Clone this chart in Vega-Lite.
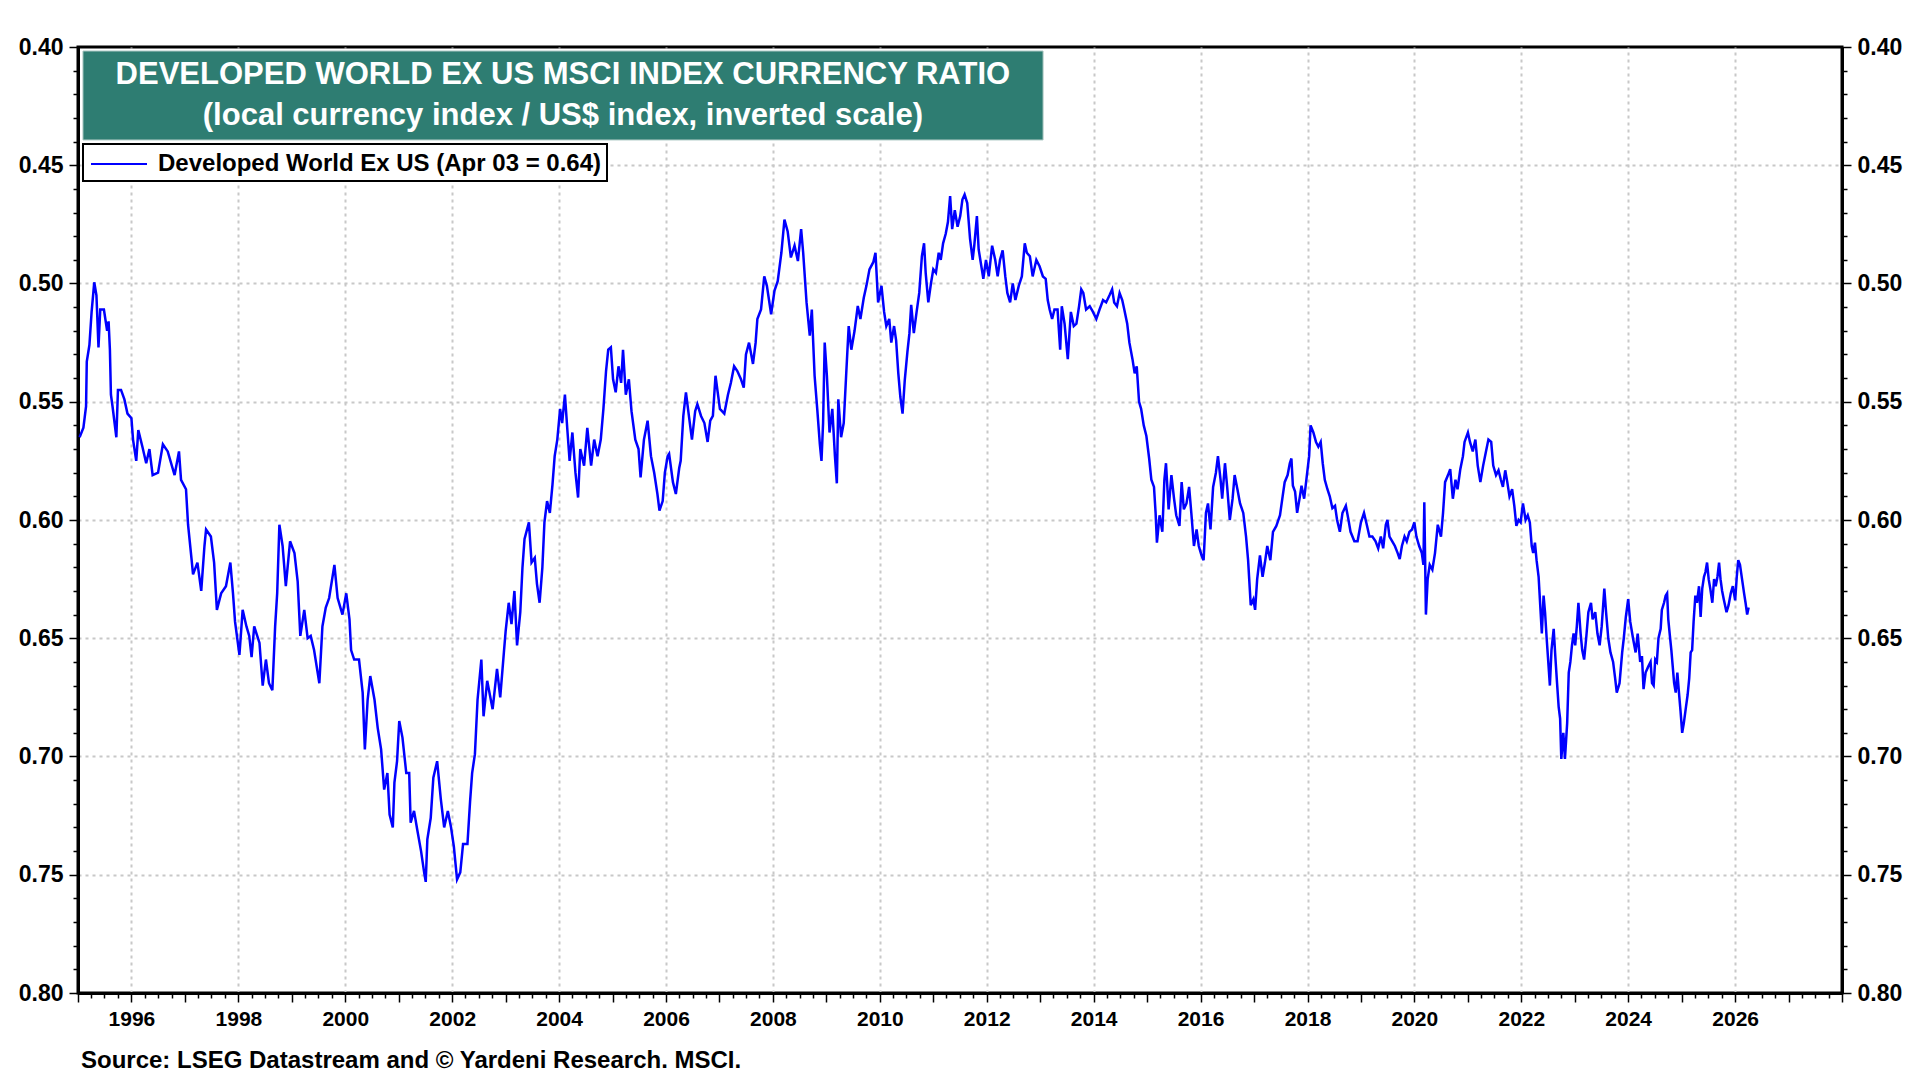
{
  "$schema": "https://vega.github.io/schema/vega-lite/v6.json",
  "width": 1764,
  "height": 946,
  "autosize": "none",
  "padding": {"left": 78, "top": 47, "right": 78, "bottom": 87},
  "background": "white",
  "title": {
    "text": "Source: LSEG Datastream and © Yardeni Research. MSCI.",
    "orient": "bottom",
    "anchor": "start",
    "frame": "group",
    "offset": 20,
    "dx": 3,
    "font": "Liberation Sans",
    "fontSize": 24,
    "fontWeight": "bold",
    "color": "black"
  },
  "config": {
    "view": {"stroke": "black", "strokeWidth": 3},
    "axis": {
      "labelFont": "Liberation Sans",
      "labelFontWeight": "bold",
      "labelFontSize": 21,
      "labelColor": "black",
      "domainColor": "black",
      "domainWidth": 3,
      "tickColor": "black",
      "tickWidth": 1.5,
      "gridColor": "#c8c8c8",
      "gridDash": [3, 4],
      "gridWidth": 2
    },
    "legend": {
      "orient": "none",
      "legendX": 5,
      "legendY": 97,
      "strokeColor": "black",
      "strokeWidth": 2,
      "fillColor": "white",
      "padding": 5,
      "labelFont": "Liberation Sans",
      "labelFontSize": 24,
      "labelFontWeight": "bold",
      "labelColor": "black",
      "labelLimit": 0,
      "symbolType": "M-1,0H3",
      "symbolStrokeWidth": 2,
      "symbolSize": 784,
      "symbolOffset": 2,
      "labelOffset": 38
    }
  },
  "data": {
    "values": [
      {"date": "1995-01-12", "value": 0.565}, {"date": "1995-02-07", "value": 0.561}, {"date": "1995-02-25", "value": 0.552}, {"date": "1995-03-02", "value": 0.533}, {"date": "1995-03-20", "value": 0.526}, {"date": "1995-04-04", "value": 0.512}, {"date": "1995-04-22", "value": 0.4995}, {"date": "1995-05-07", "value": 0.505}, {"date": "1995-05-21", "value": 0.527}, {"date": "1995-06-02", "value": 0.511}, {"date": "1995-06-27", "value": 0.511}, {"date": "1995-07-19", "value": 0.52}, {"date": "1995-07-29", "value": 0.516}, {"date": "1995-08-07", "value": 0.528}, {"date": "1995-08-14", "value": 0.547}, {"date": "1995-08-25", "value": 0.552}, {"date": "1995-09-20", "value": 0.565}, {"date": "1995-10-01", "value": 0.545}, {"date": "1995-10-22", "value": 0.545}, {"date": "1995-11-14", "value": 0.549}, {"date": "1995-12-05", "value": 0.555},
      {"date": "1996-01-01", "value": 0.557}, {"date": "1996-01-12", "value": 0.566}, {"date": "1996-02-03", "value": 0.575}, {"date": "1996-02-17", "value": 0.562}, {"date": "1996-03-16", "value": 0.569}, {"date": "1996-04-11", "value": 0.576}, {"date": "1996-05-03", "value": 0.57}, {"date": "1996-05-25", "value": 0.581}, {"date": "1996-07-01", "value": 0.58}, {"date": "1996-08-03", "value": 0.568}, {"date": "1996-09-05", "value": 0.571}, {"date": "1996-10-22", "value": 0.581}, {"date": "1996-11-21", "value": 0.571}, {"date": "1996-12-05", "value": 0.583},
      {"date": "1997-01-08", "value": 0.587}, {"date": "1997-01-22", "value": 0.602}, {"date": "1997-02-14", "value": 0.616}, {"date": "1997-02-25", "value": 0.623}, {"date": "1997-03-27", "value": 0.618}, {"date": "1997-04-22", "value": 0.63}, {"date": "1997-05-14", "value": 0.611}, {"date": "1997-05-25", "value": 0.604}, {"date": "1997-06-27", "value": 0.607}, {"date": "1997-07-19", "value": 0.618}, {"date": "1997-08-07", "value": 0.638}, {"date": "1997-09-05", "value": 0.631}, {"date": "1997-10-08", "value": 0.628}, {"date": "1997-11-07", "value": 0.618}, {"date": "1997-11-25", "value": 0.631}, {"date": "1997-12-09", "value": 0.643},
      {"date": "1998-01-08", "value": 0.657}, {"date": "1998-01-30", "value": 0.638}, {"date": "1998-02-25", "value": 0.645}, {"date": "1998-03-16", "value": 0.649}, {"date": "1998-04-01", "value": 0.658}, {"date": "1998-04-19", "value": 0.645}, {"date": "1998-05-25", "value": 0.652}, {"date": "1998-06-16", "value": 0.67}, {"date": "1998-07-08", "value": 0.659}, {"date": "1998-07-29", "value": 0.669}, {"date": "1998-08-21", "value": 0.672}, {"date": "1998-09-09", "value": 0.645}, {"date": "1998-09-23", "value": 0.631}, {"date": "1998-10-08", "value": 0.602}, {"date": "1998-10-30", "value": 0.611}, {"date": "1998-11-21", "value": 0.628}, {"date": "1998-12-20", "value": 0.609},
      {"date": "1999-01-19", "value": 0.614}, {"date": "1999-02-10", "value": 0.626}, {"date": "1999-02-28", "value": 0.649}, {"date": "1999-03-27", "value": 0.638}, {"date": "1999-04-19", "value": 0.65}, {"date": "1999-05-10", "value": 0.649}, {"date": "1999-06-02", "value": 0.655}, {"date": "1999-07-08", "value": 0.669}, {"date": "1999-07-29", "value": 0.645}, {"date": "1999-08-21", "value": 0.637}, {"date": "1999-09-13", "value": 0.633}, {"date": "1999-10-19", "value": 0.619}, {"date": "1999-11-10", "value": 0.633}, {"date": "1999-12-13", "value": 0.64},
      {"date": "2000-01-08", "value": 0.631}, {"date": "2000-01-30", "value": 0.642}, {"date": "2000-02-10", "value": 0.655}, {"date": "2000-03-02", "value": 0.659}, {"date": "2000-04-04", "value": 0.659}, {"date": "2000-04-29", "value": 0.673}, {"date": "2000-05-14", "value": 0.697}, {"date": "2000-06-02", "value": 0.676}, {"date": "2000-06-20", "value": 0.666}, {"date": "2000-07-19", "value": 0.676}, {"date": "2000-08-10", "value": 0.688}, {"date": "2000-09-02", "value": 0.697}, {"date": "2000-09-23", "value": 0.714}, {"date": "2000-10-15", "value": 0.707}, {"date": "2000-10-30", "value": 0.7245}, {"date": "2000-11-21", "value": 0.73}, {"date": "2000-12-02", "value": 0.711}, {"date": "2000-12-20", "value": 0.702},
      {"date": "2001-01-04", "value": 0.685}, {"date": "2001-01-26", "value": 0.692}, {"date": "2001-02-21", "value": 0.707}, {"date": "2001-03-13", "value": 0.707}, {"date": "2001-03-23", "value": 0.728}, {"date": "2001-04-15", "value": 0.723}, {"date": "2001-05-07", "value": 0.731}, {"date": "2001-06-02", "value": 0.74}, {"date": "2001-06-23", "value": 0.749}, {"date": "2001-07-04", "value": 0.753}, {"date": "2001-07-15", "value": 0.735}, {"date": "2001-08-07", "value": 0.726}, {"date": "2001-08-25", "value": 0.709}, {"date": "2001-09-20", "value": 0.702}, {"date": "2001-10-15", "value": 0.718}, {"date": "2001-11-07", "value": 0.73}, {"date": "2001-12-02", "value": 0.723}, {"date": "2001-12-24", "value": 0.73},
      {"date": "2002-01-12", "value": 0.738}, {"date": "2002-02-03", "value": 0.752}, {"date": "2002-02-25", "value": 0.749}, {"date": "2002-03-16", "value": 0.737}, {"date": "2002-04-15", "value": 0.737}, {"date": "2002-05-03", "value": 0.719}, {"date": "2002-05-17", "value": 0.707}, {"date": "2002-06-05", "value": 0.699}, {"date": "2002-06-23", "value": 0.676}, {"date": "2002-07-19", "value": 0.659}, {"date": "2002-08-03", "value": 0.683}, {"date": "2002-08-28", "value": 0.668}, {"date": "2002-10-04", "value": 0.68}, {"date": "2002-11-03", "value": 0.663}, {"date": "2002-11-25", "value": 0.675}, {"date": "2002-12-20", "value": 0.656},
      {"date": "2003-01-01", "value": 0.647}, {"date": "2003-01-22", "value": 0.635}, {"date": "2003-02-10", "value": 0.644}, {"date": "2003-03-02", "value": 0.63}, {"date": "2003-03-20", "value": 0.653}, {"date": "2003-04-11", "value": 0.639}, {"date": "2003-04-26", "value": 0.62}, {"date": "2003-05-10", "value": 0.608}, {"date": "2003-06-09", "value": 0.601}, {"date": "2003-06-27", "value": 0.618}, {"date": "2003-07-19", "value": 0.616}, {"date": "2003-08-03", "value": 0.627}, {"date": "2003-08-21", "value": 0.635}, {"date": "2003-09-09", "value": 0.62}, {"date": "2003-09-23", "value": 0.601}, {"date": "2003-10-11", "value": 0.592}, {"date": "2003-10-30", "value": 0.597}, {"date": "2003-11-17", "value": 0.585}, {"date": "2003-12-02", "value": 0.573}, {"date": "2003-12-20", "value": 0.566},
      {"date": "2004-01-08", "value": 0.553}, {"date": "2004-01-22", "value": 0.559}, {"date": "2004-02-10", "value": 0.547}, {"date": "2004-02-28", "value": 0.563}, {"date": "2004-03-13", "value": 0.575}, {"date": "2004-04-01", "value": 0.563}, {"date": "2004-04-22", "value": 0.58}, {"date": "2004-05-10", "value": 0.5905}, {"date": "2004-05-25", "value": 0.57}, {"date": "2004-06-20", "value": 0.577}, {"date": "2004-07-12", "value": 0.561}, {"date": "2004-08-07", "value": 0.577}, {"date": "2004-08-28", "value": 0.566}, {"date": "2004-09-20", "value": 0.573}, {"date": "2004-10-12", "value": 0.566}, {"date": "2004-10-30", "value": 0.553}, {"date": "2004-11-17", "value": 0.537}, {"date": "2004-12-02", "value": 0.528}, {"date": "2004-12-20", "value": 0.527},
      {"date": "2005-01-04", "value": 0.5405}, {"date": "2005-01-22", "value": 0.546}, {"date": "2005-02-10", "value": 0.535}, {"date": "2005-02-28", "value": 0.542}, {"date": "2005-03-13", "value": 0.528}, {"date": "2005-04-01", "value": 0.547}, {"date": "2005-04-22", "value": 0.5405}, {"date": "2005-05-10", "value": 0.554}, {"date": "2005-06-05", "value": 0.566}, {"date": "2005-06-27", "value": 0.57}, {"date": "2005-07-11", "value": 0.582}, {"date": "2005-08-03", "value": 0.566}, {"date": "2005-08-28", "value": 0.558}, {"date": "2005-09-20", "value": 0.573}, {"date": "2005-10-12", "value": 0.58}, {"date": "2005-11-03", "value": 0.589}, {"date": "2005-11-17", "value": 0.596}, {"date": "2005-12-09", "value": 0.592}, {"date": "2005-12-24", "value": 0.58},
      {"date": "2006-01-12", "value": 0.573}, {"date": "2006-01-22", "value": 0.572}, {"date": "2006-02-17", "value": 0.584}, {"date": "2006-03-09", "value": 0.589}, {"date": "2006-04-01", "value": 0.578}, {"date": "2006-04-11", "value": 0.575}, {"date": "2006-04-29", "value": 0.556}, {"date": "2006-05-17", "value": 0.546}, {"date": "2006-06-02", "value": 0.554}, {"date": "2006-06-27", "value": 0.566}, {"date": "2006-07-19", "value": 0.554}, {"date": "2006-08-03", "value": 0.551}, {"date": "2006-08-28", "value": 0.556}, {"date": "2006-09-20", "value": 0.559}, {"date": "2006-10-12", "value": 0.567}, {"date": "2006-10-30", "value": 0.558}, {"date": "2006-11-17", "value": 0.556}, {"date": "2006-12-05", "value": 0.539}, {"date": "2006-12-20", "value": 0.546},
      {"date": "2007-01-04", "value": 0.553}, {"date": "2007-02-03", "value": 0.555}, {"date": "2007-02-28", "value": 0.547}, {"date": "2007-03-20", "value": 0.542}, {"date": "2007-04-11", "value": 0.535}, {"date": "2007-05-03", "value": 0.537}, {"date": "2007-05-28", "value": 0.5405}, {"date": "2007-06-16", "value": 0.544}, {"date": "2007-07-01", "value": 0.53}, {"date": "2007-07-22", "value": 0.525}, {"date": "2007-08-18", "value": 0.534}, {"date": "2007-09-05", "value": 0.525}, {"date": "2007-09-17", "value": 0.515}, {"date": "2007-10-12", "value": 0.511}, {"date": "2007-11-03", "value": 0.497}, {"date": "2007-11-21", "value": 0.501}, {"date": "2007-12-20", "value": 0.513},
      {"date": "2008-01-12", "value": 0.503}, {"date": "2008-02-03", "value": 0.499}, {"date": "2008-02-28", "value": 0.487}, {"date": "2008-03-20", "value": 0.473}, {"date": "2008-04-11", "value": 0.478}, {"date": "2008-05-03", "value": 0.489}, {"date": "2008-05-28", "value": 0.484}, {"date": "2008-06-20", "value": 0.4905}, {"date": "2008-07-12", "value": 0.477}, {"date": "2008-07-26", "value": 0.487}, {"date": "2008-08-18", "value": 0.508}, {"date": "2008-09-09", "value": 0.522}, {"date": "2008-09-23", "value": 0.511}, {"date": "2008-10-12", "value": 0.539}, {"date": "2008-10-30", "value": 0.553}, {"date": "2008-11-17", "value": 0.568}, {"date": "2008-11-28", "value": 0.575}, {"date": "2008-12-09", "value": 0.559}, {"date": "2008-12-20", "value": 0.525},
      {"date": "2009-01-04", "value": 0.539}, {"date": "2009-01-22", "value": 0.563}, {"date": "2009-02-10", "value": 0.553}, {"date": "2009-02-28", "value": 0.573}, {"date": "2009-03-13", "value": 0.5845}, {"date": "2009-03-23", "value": 0.549}, {"date": "2009-04-11", "value": 0.565}, {"date": "2009-04-29", "value": 0.559}, {"date": "2009-05-17", "value": 0.537}, {"date": "2009-06-02", "value": 0.518}, {"date": "2009-06-20", "value": 0.528}, {"date": "2009-07-12", "value": 0.52}, {"date": "2009-08-03", "value": 0.5095}, {"date": "2009-08-21", "value": 0.515}, {"date": "2009-09-13", "value": 0.506}, {"date": "2009-10-01", "value": 0.501}, {"date": "2009-10-22", "value": 0.494}, {"date": "2009-11-17", "value": 0.491}, {"date": "2009-12-02", "value": 0.487}, {"date": "2009-12-20", "value": 0.508},
      {"date": "2010-01-12", "value": 0.501}, {"date": "2010-01-30", "value": 0.512}, {"date": "2010-02-14", "value": 0.518}, {"date": "2010-03-06", "value": 0.515}, {"date": "2010-03-20", "value": 0.525}, {"date": "2010-04-08", "value": 0.518}, {"date": "2010-04-22", "value": 0.524}, {"date": "2010-05-07", "value": 0.538}, {"date": "2010-05-21", "value": 0.548}, {"date": "2010-06-05", "value": 0.555}, {"date": "2010-06-20", "value": 0.541}, {"date": "2010-07-08", "value": 0.529}, {"date": "2010-07-22", "value": 0.521}, {"date": "2010-08-03", "value": 0.509}, {"date": "2010-08-21", "value": 0.521}, {"date": "2010-09-09", "value": 0.512}, {"date": "2010-09-27", "value": 0.504}, {"date": "2010-10-15", "value": 0.4885}, {"date": "2010-10-30", "value": 0.483}, {"date": "2010-11-10", "value": 0.4955}, {"date": "2010-11-28", "value": 0.508}, {"date": "2010-12-16", "value": 0.5},
      {"date": "2011-01-01", "value": 0.494}, {"date": "2011-01-19", "value": 0.4955}, {"date": "2011-02-07", "value": 0.487}, {"date": "2011-02-21", "value": 0.49}, {"date": "2011-03-09", "value": 0.483}, {"date": "2011-03-27", "value": 0.479}, {"date": "2011-04-11", "value": 0.474}, {"date": "2011-04-26", "value": 0.463}, {"date": "2011-05-10", "value": 0.477}, {"date": "2011-05-28", "value": 0.469}, {"date": "2011-06-16", "value": 0.476}, {"date": "2011-07-04", "value": 0.4715}, {"date": "2011-07-19", "value": 0.4645}, {"date": "2011-08-03", "value": 0.4624}, {"date": "2011-08-21", "value": 0.466}, {"date": "2011-09-09", "value": 0.481}, {"date": "2011-09-27", "value": 0.49}, {"date": "2011-10-08", "value": 0.484}, {"date": "2011-10-26", "value": 0.4715}, {"date": "2011-11-07", "value": 0.4856}, {"date": "2011-11-21", "value": 0.491}, {"date": "2011-12-09", "value": 0.498}, {"date": "2011-12-27", "value": 0.49},
      {"date": "2012-01-15", "value": 0.497}, {"date": "2012-02-07", "value": 0.484}, {"date": "2012-02-28", "value": 0.49}, {"date": "2012-03-16", "value": 0.497}, {"date": "2012-04-01", "value": 0.49}, {"date": "2012-04-19", "value": 0.486}, {"date": "2012-05-07", "value": 0.497}, {"date": "2012-05-21", "value": 0.504}, {"date": "2012-06-09", "value": 0.508}, {"date": "2012-06-27", "value": 0.5}, {"date": "2012-07-15", "value": 0.507}, {"date": "2012-08-07", "value": 0.501}, {"date": "2012-08-28", "value": 0.497}, {"date": "2012-09-17", "value": 0.483}, {"date": "2012-10-01", "value": 0.487}, {"date": "2012-10-22", "value": 0.4885}, {"date": "2012-11-10", "value": 0.497}, {"date": "2012-12-05", "value": 0.49}, {"date": "2012-12-27", "value": 0.4927},
      {"date": "2013-01-19", "value": 0.497}, {"date": "2013-02-07", "value": 0.498}, {"date": "2013-02-21", "value": 0.507}, {"date": "2013-03-06", "value": 0.511}, {"date": "2013-03-23", "value": 0.515}, {"date": "2013-04-08", "value": 0.511}, {"date": "2013-04-29", "value": 0.511}, {"date": "2013-05-17", "value": 0.528}, {"date": "2013-05-28", "value": 0.5096}, {"date": "2013-06-16", "value": 0.517}, {"date": "2013-07-08", "value": 0.532}, {"date": "2013-07-29", "value": 0.512}, {"date": "2013-08-18", "value": 0.518}, {"date": "2013-09-05", "value": 0.517}, {"date": "2013-09-23", "value": 0.5096}, {"date": "2013-10-08", "value": 0.5025}, {"date": "2013-10-22", "value": 0.504}, {"date": "2013-11-10", "value": 0.511}, {"date": "2013-12-05", "value": 0.5096}, {"date": "2013-12-27", "value": 0.512},
      {"date": "2014-01-19", "value": 0.515}, {"date": "2014-02-10", "value": 0.511}, {"date": "2014-03-06", "value": 0.507}, {"date": "2014-03-27", "value": 0.508}, {"date": "2014-04-19", "value": 0.505}, {"date": "2014-05-07", "value": 0.5025}, {"date": "2014-05-21", "value": 0.508}, {"date": "2014-06-09", "value": 0.5096}, {"date": "2014-06-27", "value": 0.504}, {"date": "2014-07-15", "value": 0.507}, {"date": "2014-07-29", "value": 0.511}, {"date": "2014-08-18", "value": 0.517}, {"date": "2014-09-02", "value": 0.525}, {"date": "2014-09-23", "value": 0.532}, {"date": "2014-10-08", "value": 0.538}, {"date": "2014-10-22", "value": 0.535}, {"date": "2014-11-07", "value": 0.55}, {"date": "2014-11-21", "value": 0.553}, {"date": "2014-12-09", "value": 0.56}, {"date": "2014-12-27", "value": 0.5645},
      {"date": "2015-01-15", "value": 0.574}, {"date": "2015-01-30", "value": 0.583}, {"date": "2015-02-17", "value": 0.586}, {"date": "2015-02-28", "value": 0.597}, {"date": "2015-03-09", "value": 0.6096}, {"date": "2015-03-27", "value": 0.598}, {"date": "2015-04-15", "value": 0.605}, {"date": "2015-04-29", "value": 0.583}, {"date": "2015-05-10", "value": 0.576}, {"date": "2015-05-28", "value": 0.5955}, {"date": "2015-06-16", "value": 0.581}, {"date": "2015-07-04", "value": 0.591}, {"date": "2015-07-19", "value": 0.598}, {"date": "2015-08-10", "value": 0.6025}, {"date": "2015-08-25", "value": 0.584}, {"date": "2015-09-09", "value": 0.5955}, {"date": "2015-09-27", "value": 0.593}, {"date": "2015-10-15", "value": 0.586}, {"date": "2015-10-30", "value": 0.597}, {"date": "2015-11-17", "value": 0.611}, {"date": "2015-12-05", "value": 0.604}, {"date": "2015-12-20", "value": 0.611},
      {"date": "2016-01-08", "value": 0.615}, {"date": "2016-01-22", "value": 0.617}, {"date": "2016-02-07", "value": 0.597}, {"date": "2016-02-21", "value": 0.593}, {"date": "2016-03-09", "value": 0.604}, {"date": "2016-03-27", "value": 0.586}, {"date": "2016-04-15", "value": 0.58}, {"date": "2016-04-29", "value": 0.573}, {"date": "2016-05-17", "value": 0.583}, {"date": "2016-05-28", "value": 0.591}, {"date": "2016-06-16", "value": 0.576}, {"date": "2016-07-01", "value": 0.586}, {"date": "2016-07-19", "value": 0.6}, {"date": "2016-08-07", "value": 0.591}, {"date": "2016-08-21", "value": 0.581}, {"date": "2016-09-09", "value": 0.587}, {"date": "2016-09-27", "value": 0.593}, {"date": "2016-10-19", "value": 0.597}, {"date": "2016-11-07", "value": 0.607}, {"date": "2016-11-21", "value": 0.617}, {"date": "2016-12-09", "value": 0.636}, {"date": "2016-12-27", "value": 0.6335},
      {"date": "2017-01-08", "value": 0.638}, {"date": "2017-01-22", "value": 0.625}, {"date": "2017-02-10", "value": 0.615}, {"date": "2017-02-28", "value": 0.624}, {"date": "2017-03-16", "value": 0.618}, {"date": "2017-04-01", "value": 0.611}, {"date": "2017-04-22", "value": 0.617}, {"date": "2017-05-10", "value": 0.605}, {"date": "2017-06-02", "value": 0.6025}, {"date": "2017-06-27", "value": 0.598}, {"date": "2017-07-15", "value": 0.59}, {"date": "2017-07-29", "value": 0.584}, {"date": "2017-08-18", "value": 0.581}, {"date": "2017-09-02", "value": 0.576}, {"date": "2017-09-13", "value": 0.574}, {"date": "2017-09-23", "value": 0.5855}, {"date": "2017-10-08", "value": 0.588}, {"date": "2017-10-22", "value": 0.597}, {"date": "2017-11-10", "value": 0.59}, {"date": "2017-11-21", "value": 0.5855}, {"date": "2017-12-09", "value": 0.591}, {"date": "2017-12-24", "value": 0.583},
      {"date": "2018-01-12", "value": 0.573}, {"date": "2018-01-22", "value": 0.56}, {"date": "2018-02-10", "value": 0.563}, {"date": "2018-02-28", "value": 0.567}, {"date": "2018-03-16", "value": 0.569}, {"date": "2018-04-01", "value": 0.567}, {"date": "2018-04-15", "value": 0.576}, {"date": "2018-04-29", "value": 0.583}, {"date": "2018-05-17", "value": 0.587}, {"date": "2018-06-02", "value": 0.59}, {"date": "2018-06-20", "value": 0.595}, {"date": "2018-07-08", "value": 0.594}, {"date": "2018-07-22", "value": 0.6}, {"date": "2018-08-10", "value": 0.605}, {"date": "2018-08-28", "value": 0.597}, {"date": "2018-09-20", "value": 0.594}, {"date": "2018-10-08", "value": 0.6}, {"date": "2018-10-22", "value": 0.605}, {"date": "2018-11-17", "value": 0.609}, {"date": "2018-12-09", "value": 0.609},
      {"date": "2019-01-01", "value": 0.601}, {"date": "2019-01-22", "value": 0.597}, {"date": "2019-02-10", "value": 0.602}, {"date": "2019-02-28", "value": 0.607}, {"date": "2019-03-20", "value": 0.607}, {"date": "2019-04-11", "value": 0.609}, {"date": "2019-04-29", "value": 0.612}, {"date": "2019-05-17", "value": 0.607}, {"date": "2019-06-02", "value": 0.612}, {"date": "2019-06-20", "value": 0.602}, {"date": "2019-07-01", "value": 0.6}, {"date": "2019-07-15", "value": 0.607}, {"date": "2019-08-03", "value": 0.609}, {"date": "2019-08-21", "value": 0.611}, {"date": "2019-09-09", "value": 0.614}, {"date": "2019-09-23", "value": 0.6165}, {"date": "2019-10-08", "value": 0.611}, {"date": "2019-10-26", "value": 0.607}, {"date": "2019-11-10", "value": 0.609}, {"date": "2019-11-28", "value": 0.605}, {"date": "2019-12-16", "value": 0.604},
      {"date": "2020-01-01", "value": 0.601}, {"date": "2020-01-15", "value": 0.607}, {"date": "2020-02-03", "value": 0.611}, {"date": "2020-02-21", "value": 0.614}, {"date": "2020-03-03", "value": 0.619}, {"date": "2020-03-09", "value": 0.5925}, {"date": "2020-03-20", "value": 0.64}, {"date": "2020-04-01", "value": 0.625}, {"date": "2020-04-15", "value": 0.619}, {"date": "2020-05-03", "value": 0.621}, {"date": "2020-05-21", "value": 0.614}, {"date": "2020-06-09", "value": 0.602}, {"date": "2020-07-01", "value": 0.607}, {"date": "2020-07-15", "value": 0.597}, {"date": "2020-07-29", "value": 0.584}, {"date": "2020-08-18", "value": 0.581}, {"date": "2020-09-02", "value": 0.5785}, {"date": "2020-09-20", "value": 0.591}, {"date": "2020-10-08", "value": 0.583}, {"date": "2020-10-22", "value": 0.587}, {"date": "2020-11-10", "value": 0.5785}, {"date": "2020-11-28", "value": 0.573}, {"date": "2020-12-09", "value": 0.567},
      {"date": "2021-01-01", "value": 0.563}, {"date": "2021-01-15", "value": 0.567}, {"date": "2021-02-03", "value": 0.571}, {"date": "2021-02-21", "value": 0.566}, {"date": "2021-03-09", "value": 0.577}, {"date": "2021-03-27", "value": 0.584}, {"date": "2021-04-15", "value": 0.577}, {"date": "2021-05-03", "value": 0.5715}, {"date": "2021-05-21", "value": 0.566}, {"date": "2021-06-09", "value": 0.567}, {"date": "2021-06-23", "value": 0.577}, {"date": "2021-07-12", "value": 0.581}, {"date": "2021-07-29", "value": 0.579}, {"date": "2021-08-14", "value": 0.583}, {"date": "2021-08-28", "value": 0.586}, {"date": "2021-09-13", "value": 0.579}, {"date": "2021-09-27", "value": 0.584}, {"date": "2021-10-12", "value": 0.59}, {"date": "2021-10-30", "value": 0.587}, {"date": "2021-11-14", "value": 0.594}, {"date": "2021-11-28", "value": 0.6025}, {"date": "2021-12-13", "value": 0.6}, {"date": "2021-12-27", "value": 0.601},
      {"date": "2022-01-12", "value": 0.593}, {"date": "2022-01-30", "value": 0.6}, {"date": "2022-02-14", "value": 0.598}, {"date": "2022-02-28", "value": 0.601}, {"date": "2022-03-13", "value": 0.611}, {"date": "2022-03-23", "value": 0.614}, {"date": "2022-04-04", "value": 0.6096}, {"date": "2022-04-15", "value": 0.617}, {"date": "2022-04-29", "value": 0.624}, {"date": "2022-05-10", "value": 0.636}, {"date": "2022-05-21", "value": 0.648}, {"date": "2022-06-02", "value": 0.632}, {"date": "2022-06-12", "value": 0.639}, {"date": "2022-06-23", "value": 0.65}, {"date": "2022-07-04", "value": 0.66}, {"date": "2022-07-15", "value": 0.67}, {"date": "2022-07-26", "value": 0.655}, {"date": "2022-08-10", "value": 0.646}, {"date": "2022-08-21", "value": 0.6575}, {"date": "2022-09-02", "value": 0.669}, {"date": "2022-09-13", "value": 0.679}, {"date": "2022-09-23", "value": 0.684}, {"date": "2022-10-01", "value": 0.701}, {"date": "2022-10-15", "value": 0.69}, {"date": "2022-10-26", "value": 0.701}, {"date": "2022-11-10", "value": 0.686}, {"date": "2022-11-21", "value": 0.6645}, {"date": "2022-12-02", "value": 0.66}, {"date": "2022-12-13", "value": 0.653}, {"date": "2022-12-24", "value": 0.648},
      {"date": "2023-01-04", "value": 0.653}, {"date": "2023-01-15", "value": 0.645}, {"date": "2023-01-26", "value": 0.635}, {"date": "2023-02-10", "value": 0.648}, {"date": "2023-02-21", "value": 0.655}, {"date": "2023-03-06", "value": 0.659}, {"date": "2023-03-20", "value": 0.65}, {"date": "2023-04-04", "value": 0.639}, {"date": "2023-04-22", "value": 0.635}, {"date": "2023-05-03", "value": 0.642}, {"date": "2023-05-21", "value": 0.639}, {"date": "2023-06-05", "value": 0.648}, {"date": "2023-06-20", "value": 0.653}, {"date": "2023-07-04", "value": 0.645}, {"date": "2023-07-22", "value": 0.629}, {"date": "2023-08-03", "value": 0.639}, {"date": "2023-08-18", "value": 0.65}, {"date": "2023-09-02", "value": 0.656}, {"date": "2023-09-20", "value": 0.66}, {"date": "2023-10-04", "value": 0.667}, {"date": "2023-10-15", "value": 0.673}, {"date": "2023-11-03", "value": 0.669}, {"date": "2023-11-21", "value": 0.656}, {"date": "2023-12-02", "value": 0.65}, {"date": "2023-12-16", "value": 0.641},
      {"date": "2024-01-01", "value": 0.6335}, {"date": "2024-01-15", "value": 0.643}, {"date": "2024-02-03", "value": 0.65}, {"date": "2024-02-21", "value": 0.656}, {"date": "2024-03-06", "value": 0.648}, {"date": "2024-03-23", "value": 0.66}, {"date": "2024-04-04", "value": 0.6575}, {"date": "2024-04-15", "value": 0.6715}, {"date": "2024-04-29", "value": 0.6645}, {"date": "2024-05-17", "value": 0.662}, {"date": "2024-06-02", "value": 0.66}, {"date": "2024-06-12", "value": 0.669}, {"date": "2024-06-23", "value": 0.67}, {"date": "2024-07-04", "value": 0.659}, {"date": "2024-07-15", "value": 0.66}, {"date": "2024-07-26", "value": 0.65}, {"date": "2024-08-10", "value": 0.646}, {"date": "2024-08-18", "value": 0.638}, {"date": "2024-09-02", "value": 0.635}, {"date": "2024-09-13", "value": 0.632}, {"date": "2024-09-23", "value": 0.631}, {"date": "2024-10-01", "value": 0.642}, {"date": "2024-10-12", "value": 0.649}, {"date": "2024-10-22", "value": 0.655}, {"date": "2024-11-10", "value": 0.669}, {"date": "2024-11-21", "value": 0.673}, {"date": "2024-12-02", "value": 0.6645}, {"date": "2024-12-13", "value": 0.673}, {"date": "2024-12-24", "value": 0.681},
      {"date": "2025-01-04", "value": 0.69}, {"date": "2025-01-15", "value": 0.686}, {"date": "2025-01-30", "value": 0.679}, {"date": "2025-02-10", "value": 0.674}, {"date": "2025-02-21", "value": 0.667}, {"date": "2025-03-03", "value": 0.656}, {"date": "2025-03-13", "value": 0.655}, {"date": "2025-03-23", "value": 0.643}, {"date": "2025-04-04", "value": 0.632}, {"date": "2025-04-15", "value": 0.635}, {"date": "2025-04-29", "value": 0.628}, {"date": "2025-05-10", "value": 0.641}, {"date": "2025-05-21", "value": 0.629}, {"date": "2025-06-02", "value": 0.624}, {"date": "2025-06-12", "value": 0.622}, {"date": "2025-06-23", "value": 0.618}, {"date": "2025-07-04", "value": 0.625}, {"date": "2025-07-15", "value": 0.629}, {"date": "2025-07-29", "value": 0.635}, {"date": "2025-08-10", "value": 0.625}, {"date": "2025-08-21", "value": 0.628}, {"date": "2025-09-02", "value": 0.624}, {"date": "2025-09-13", "value": 0.618}, {"date": "2025-09-23", "value": 0.625}, {"date": "2025-10-04", "value": 0.63}, {"date": "2025-10-15", "value": 0.6335}, {"date": "2025-11-03", "value": 0.639}, {"date": "2025-11-17", "value": 0.636}, {"date": "2025-12-02", "value": 0.631}, {"date": "2025-12-16", "value": 0.628},
      {"date": "2026-01-01", "value": 0.634}, {"date": "2026-01-12", "value": 0.624}, {"date": "2026-01-22", "value": 0.617}, {"date": "2026-02-03", "value": 0.619}, {"date": "2026-02-17", "value": 0.625}, {"date": "2026-03-03", "value": 0.631}, {"date": "2026-03-13", "value": 0.635}, {"date": "2026-03-24", "value": 0.64}, {"date": "2026-04-03", "value": 0.637}
    ]
  },
  "layer": [
    {
      "mark": {"type": "line", "color": "#0000ff", "strokeWidth": 2.5, "interpolate": "linear"},
      "encoding": {
        "x": {
          "field": "date",
          "type": "temporal",
          "scale": {"domain": [{"year": 1995, "month": 1, "date": 1}, {"year": 2028, "month": 1, "date": 1}], "nice": false},
          "axis": {
            "title": null,
            "tickCount": {"interval": "month", "step": 3},
            "labelExpr": "month(datum.value) == 0 && year(datum.value) % 2 == 0 && year(datum.value) < 2028 ? timeFormat(datum.value, '%Y') : ''",
            "labelOverlap": false,
            "labelFlush": false,
            "labelPadding": 6,
            "grid": true,
            "gridOpacity": {"condition": {"test": "month(datum.value) == 0 && year(datum.value) % 2 == 0 && year(datum.value) < 2028", "value": 1}, "value": 0},
            "tickSize": {"condition": {"test": "month(datum.value) == 0", "value": 9}, "value": 5}
          }
        },
        "y": {
          "field": "value",
          "type": "quantitative",
          "scale": {"domain": [0.4, 0.8], "reverse": true, "zero": false, "nice": false},
          "axis": {
            "orient": "left",
            "title": null,
            "values": [0.4, 0.41, 0.42, 0.43, 0.44, 0.45, 0.46, 0.47, 0.48, 0.49, 0.5, 0.51, 0.52, 0.53, 0.54, 0.55, 0.56, 0.57, 0.58, 0.59, 0.6, 0.61, 0.62, 0.63, 0.64, 0.65, 0.66, 0.67, 0.68, 0.69, 0.7, 0.71, 0.72, 0.73, 0.74, 0.75, 0.76, 0.77, 0.78, 0.79, 0.8],
            "labelExpr": "round(datum.value * 100) % 5 == 0 ? format(datum.value, '.2f') : ''",
            "labelOverlap": false,
            "labelFontSize": 23,
            "labelPadding": 6,
            "grid": true,
            "gridOpacity": {"condition": {"test": "round(datum.value * 100) % 5 == 0 && datum.value > 0.405 && datum.value < 0.795", "value": 1}, "value": 0},
            "tickSize": {"condition": {"test": "round(datum.value * 100) % 5 == 0", "value": 9}, "value": 5}
          }
        },
        "color": {
          "datum": "Developed World Ex US (Apr 03 = 0.64)",
          "scale": {"range": ["#0000ff"]},
          "legend": {"title": null}
        }
      }
    },
    {
      "data": {"values": [{}]},
      "mark": {"type": "rect", "color": "#2e7d72", "stroke": "#a9c6c1", "strokeWidth": 1},
      "encoding": {
        "x": {"datum": {"year": 1995, "month": 2, "date": 4}, "type": "temporal"},
        "x2": {"datum": {"year": 2013, "month": 1, "date": 20}},
        "y": {
          "datum": 0.4017,
          "type": "quantitative",
          "scale": {"domain": [0.4, 0.8], "reverse": true, "zero": false, "nice": false},
          "axis": {
            "orient": "right",
            "title": null,
            "values": [0.4, 0.41, 0.42, 0.43, 0.44, 0.45, 0.46, 0.47, 0.48, 0.49, 0.5, 0.51, 0.52, 0.53, 0.54, 0.55, 0.56, 0.57, 0.58, 0.59, 0.6, 0.61, 0.62, 0.63, 0.64, 0.65, 0.66, 0.67, 0.68, 0.69, 0.7, 0.71, 0.72, 0.73, 0.74, 0.75, 0.76, 0.77, 0.78, 0.79, 0.8],
            "labelExpr": "round(datum.value * 100) % 5 == 0 ? format(datum.value, '.2f') : ''",
            "labelOverlap": false,
            "labelFontSize": 23,
            "labelPadding": 6,
            "grid": false,
            "tickSize": {"condition": {"test": "round(datum.value * 100) % 5 == 0", "value": 9}, "value": 5}
          }
        },
        "y2": {"datum": 0.4393}
      }
    },
    {
      "data": {"values": [{}]},
      "mark": {"type": "text", "color": "white", "font": "Liberation Sans", "fontSize": 31, "fontWeight": "bold", "align": "center", "baseline": "middle"},
      "encoding": {
        "x": {"datum": {"year": 2004, "month": 1, "date": 27}, "type": "temporal"},
        "y": {"datum": 0.4117, "type": "quantitative", "axis": null, "scale": {"domain": [0.4, 0.8], "reverse": true, "zero": false, "nice": false}},
        "text": {"value": "DEVELOPED WORLD EX US MSCI INDEX CURRENCY RATIO"}
      }
    },
    {
      "data": {"values": [{}]},
      "mark": {"type": "text", "color": "white", "font": "Liberation Sans", "fontSize": 31, "fontWeight": "bold", "align": "center", "baseline": "middle"},
      "encoding": {
        "x": {"datum": {"year": 2004, "month": 1, "date": 27}, "type": "temporal"},
        "y": {"datum": 0.4293, "type": "quantitative", "axis": null, "scale": {"domain": [0.4, 0.8], "reverse": true, "zero": false, "nice": false}},
        "text": {"value": "(local currency index / US$ index, inverted scale)"}
      }
    }
  ],
  "resolve": {"axis": {"y": "independent"}}
}
